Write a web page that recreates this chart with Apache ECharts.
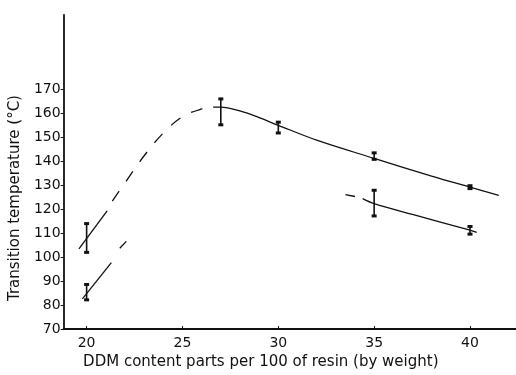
<!DOCTYPE html>
<html>
<head>
<meta charset="utf-8">
<script src="https://cdn.jsdelivr.net/npm/echarts@6/dist/echarts.min.js"></script>
<style>
html,body{margin:0;padding:0;background:#fff;}
#chart{width:516px;height:375px;}
</style>
</head>
<body>
<div id="chart"></div>
<script>
// ---- data ----
const xTicks = [20, 25, 30, 35, 40];
const yTicks = [70, 80, 90, 100, 110, 120, 130, 140, 150, 160, 170];

// upper curve
const upperSolidLeft = [[19.6, 103.5], [21.07, 119.3]];
const upperDashed = [[21.34, 123.4], [22, 131], [23, 142.3], [24, 151.8], [25, 158.6], [26, 161.8], [26.6, 162.6]];
const upperSolidRight = [[26.6, 162.6], [27, 162.6], [28, 161], [29, 158.2], [30, 155], [32, 148.8], [35, 141.2], [38, 133.8], [40, 129.2], [41.5, 125.8]];

// lower right curve
const lowerRightDash = [[33.5, 126.1], [34.0, 125.3]];
const lowerRightSolid = [[34.4, 124.4], [35, 122.3], [37, 117.8], [40, 111.3], [40.35, 110.3]];

// lower left curve
const lowerLeftSolid = [[19.78, 82.6], [21.29, 97.7]];
const lowerLeftDash = [[21.73, 103.7], [22.07, 106.6]];

// error bars
const errX    = [20,  20,   27,    30,    35,    35,    40,    40];
const errLow  = [102, 82.2, 155.2, 151.8, 140.8, 117.2, 128.6, 109.6];
const errHigh = [114, 88.6, 166,   156.3, 143.5, 127.9, 129.8, 112.8];

const errData = errX.map((x, i) => [x, errLow[i], errHigh[i]]);

const chart = echarts.init(document.getElementById('chart'), null, {renderer: 'canvas'});
const FONT = 'DejaVu Sans';
const lineBase = {type: 'line', smooth: 0.35, symbol: 'none', silent: true, z: 3};
function solid(data) { return Object.assign({}, lineBase, {data, lineStyle: {color: '#111', width: 1.3}}); }

chart.setOption({
  animation: false,
  backgroundColor: '#fff',
  grid: {left: 63, right: 0, top: 15, bottom: 42, containLabel: false},
  xAxis: {
    type: 'value', min: 18.8, max: 42.4,
    name: 'DDM content parts per 100 of resin (by weight)',
    nameLocation: 'middle', nameGap: 22,
    nameTextStyle: {fontFamily: FONT, fontSize: 15, color: '#111', padding: [0, 58, 0, 0]},
    axisLine: {show: true, onZero: false, lineStyle: {color: '#111', width: 1.8}},
    axisTick: {show: true, inside: true, length: 3, customValues: xTicks, lineStyle: {color: '#111', width: 1}},
    axisLabel: {customValues: xTicks, fontFamily: FONT, fontSize: 14, color: '#111', margin: 7},
    splitLine: {show: false}
  },
  yAxis: {
    type: 'value', min: 70, max: 201,
    name: 'Transition temperature (°C)',
    nameLocation: 'middle', nameGap: 38, nameRotate: 90,
    nameTextStyle: {fontFamily: FONT, fontSize: 15, color: '#111', padding: [0, 52, 0, 0]},
    axisLine: {show: true, onZero: false, lineStyle: {color: '#111', width: 1.8}},
    axisTick: {show: true, length: 3, customValues: yTicks, lineStyle: {color: '#111', width: 1}},
    axisLabel: {customValues: yTicks, fontFamily: FONT, fontSize: 14, color: '#111', margin: 3},
    splitLine: {show: false}
  },
  series: [
    solid(upperSolidLeft),
    Object.assign({}, lineBase, {data: upperDashed, lineStyle: {color: '#111', width: 1.3, type: [12, 12]}}),
    solid(upperSolidRight),
    solid(lowerRightDash),
    solid(lowerRightSolid),
    solid(lowerLeftSolid),
    solid(lowerLeftDash),
    {
      type: 'custom', silent: true, z: 4,
      data: errData,
      renderItem: function (params, api) {
        const x = api.value(0);
        const lo = api.coord([x, api.value(1)]);
        const hi = api.coord([x, api.value(2)]);
        const cw = 2.5;
        return {
          type: 'group',
          children: [
            {type: 'line', shape: {x1: lo[0], y1: lo[1], x2: hi[0], y2: hi[1]}, style: {stroke: '#111', lineWidth: 1.6}},
            {type: 'rect', shape: {x: lo[0] - cw, y: lo[1] - 1.5, width: cw * 2, height: 3}, style: {fill: '#111'}},
            {type: 'rect', shape: {x: hi[0] - cw, y: hi[1] - 1.5, width: cw * 2, height: 3}, style: {fill: '#111'}}
          ]
        };
      }
    }
  ]
});
</script>
</body>
</html>
